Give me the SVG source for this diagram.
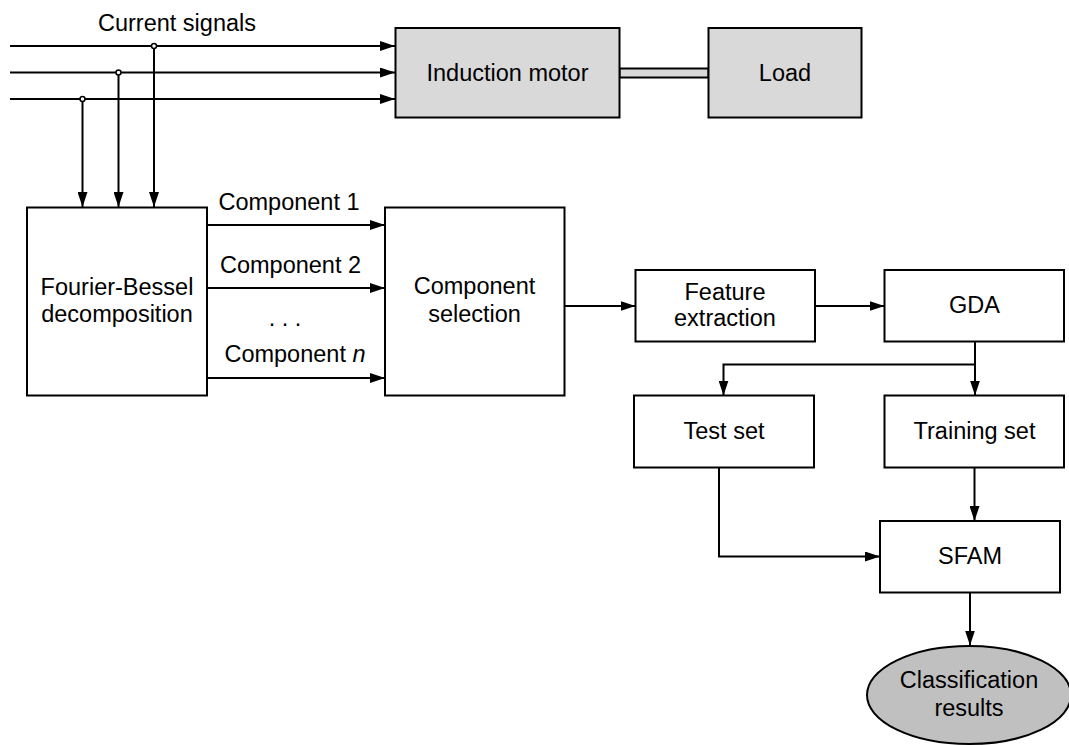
<svg xmlns="http://www.w3.org/2000/svg" width="1069" height="745" viewBox="0 0 1069 745">
<style>
.box{fill:#fff;stroke:#000;stroke-width:2}
.gray{fill:#d9d9d9;stroke:#000;stroke-width:2}
.ell{fill:#c0c0c0;stroke:#000;stroke-width:2}
.t{font-family:"Liberation Sans",Arial,sans-serif;font-size:23.5px;fill:#000;text-anchor:middle}
.c{fill:none;stroke:#000;stroke-width:2}
.a{marker-end:url(#arr)}
.dot{fill:#fff;stroke:#000;stroke-width:1.5}
</style>
<defs>
<marker id="arr" markerUnits="userSpaceOnUse" markerWidth="15" markerHeight="10" refX="15" refY="5" orient="auto">
<path d="M0,0 L15,5 L0,10 z" fill="#000"/>
</marker>
</defs>
<rect width="1069" height="745" fill="#fff"/>
<g id="connectors">
<line class="c a" x1="10" y1="46" x2="395" y2="46"/>
<line class="c a" x1="10" y1="72.5" x2="395" y2="72.5"/>
<line class="c a" x1="10" y1="99" x2="395" y2="99"/>
<line class="c a" x1="154" y1="46" x2="154" y2="207"/>
<line class="c a" x1="118.5" y1="72.5" x2="118.5" y2="207"/>
<line class="c a" x1="82.5" y1="99" x2="82.5" y2="207"/>
<circle class="dot" cx="154" cy="46" r="2.5"/>
<circle class="dot" cx="118.5" cy="72.5" r="2.5"/>
<circle class="dot" cx="82.5" cy="99" r="2.5"/>
<rect x="619.5" y="68.5" width="89" height="9" class="gray"/>
<line class="c a" x1="207" y1="225" x2="385" y2="225"/>
<line class="c a" x1="207" y1="288" x2="385" y2="288"/>
<line class="c a" x1="207" y1="378" x2="385" y2="378"/>
<line class="c a" x1="564" y1="306" x2="635.5" y2="306"/>
<line class="c a" x1="815" y1="306" x2="884.5" y2="306"/>
<line class="c a" x1="975" y1="341.5" x2="975" y2="395.5"/>
<polyline class="c a" points="975,364.5 723.5,364.5 723.5,395.5"/>
<line class="c a" x1="974.5" y1="467.5" x2="974.5" y2="521"/>
<polyline class="c a" points="719,467.5 719,556.5 880,556.5"/>
<line class="c a" x1="970" y1="592.5" x2="970" y2="645.5"/>
</g>
<text class="t" x="177" y="31">Current signals</text>
<g id="motor"><rect class="gray" x="395.5" y="28" width="224" height="89.5"/><text class="t" x="507.5" y="80.5">Induction motor</text></g>
<g id="load"><rect class="gray" x="708.5" y="28" width="153" height="89.5"/><text class="t" x="785" y="80.5">Load</text></g>
<g id="fourier"><rect class="box" x="27" y="207.5" width="180" height="188"/><text class="t" x="117" y="295">Fourier-Bessel</text><text class="t" x="117" y="321.5">decomposition</text></g>
<g id="labels">
<text class="t" x="289" y="210">Component 1</text>
<text class="t" x="290.5" y="272.5">Component 2</text>
<text class="t" x="285" y="325.5">. . .</text>
<text class="t" x="295" y="361.5">Component <tspan font-style="italic">n</tspan></text>
</g>
<g id="compsel"><rect class="box" x="385" y="207.5" width="179.5" height="188"/><text class="t" x="474.5" y="293.5">Component</text><text class="t" x="474.5" y="321.5">selection</text></g>
<g id="feature"><rect class="box" x="635.5" y="270" width="179.5" height="71.5"/><text class="t" x="725" y="299.5">Feature</text><text class="t" x="725" y="326">extraction</text></g>
<g id="gda"><rect class="box" x="884.5" y="270" width="179.5" height="71.5"/><text class="t" x="974.5" y="313">GDA</text></g>
<g id="test"><rect class="box" x="634" y="395.5" width="180" height="72"/><text class="t" x="724" y="438.5">Test set</text></g>
<g id="training"><rect class="box" x="884.5" y="395.5" width="179.5" height="72"/><text class="t" x="974.5" y="438.5">Training set</text></g>
<g id="sfam"><rect class="box" x="880" y="521" width="180" height="71.5"/><text class="t" x="970" y="563.5">SFAM</text></g>
<g id="result"><ellipse class="ell" cx="969" cy="695" rx="102" ry="49"/><text class="t" x="969" y="688">Classification</text><text class="t" x="969" y="716">results</text></g>
</svg>
